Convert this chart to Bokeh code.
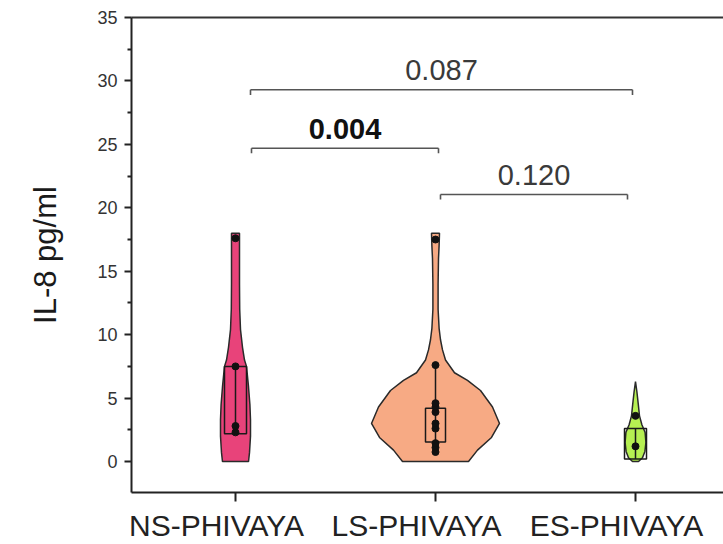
import numpy as np
from bokeh.plotting import figure
from bokeh.models import Range1d, FixedTicker, LinearAxis
from bokeh.core.properties import value
from bokeh.embed import file_html
from bokeh.resources import INLINE

# ---------------- data ----------------
categories = ["NS-PHIVAYA", "LS-PHIVAYA", "ES-PHIVAYA"]
positions = [1, 2, 3]
colors = ["#E8437A", "#F7AA84", "#B6F052"]

# violin outlines: y level and half width (x units)
ns_y = [0, 0.7, 2.0, 3.3, 4.5, 5.9, 7.5, 8.0, 9.0, 10.4, 12, 14, 16, 18]
ns_hw = [0.065, 0.070, 0.075, 0.075, 0.072, 0.065, 0.055, 0.045, 0.035, 0.025, 0.021, 0.02, 0.02, 0.02]
ls_y = [0, 0.9, 1.9, 3.0, 4.3, 5.6, 6.4, 7.0, 8.0, 8.8, 9.6, 10.5, 12, 14, 16, 17, 18]
ls_hw = [0.165, 0.21, 0.28, 0.32, 0.285, 0.225, 0.16, 0.095, 0.05, 0.035, 0.025, 0.018, 0.013, 0.013, 0.015, 0.018, 0.02]
es_y = [0, 0.3, 0.8, 1.5, 2.3, 2.9, 3.6, 4.5, 5.5, 6.3]
es_hw = [0.015, 0.035, 0.047, 0.052, 0.048, 0.032, 0.02, 0.014, 0.007, 0.0]

# box and whiskers
box_q1 = [2.2, 1.55, 0.2]
box_q3 = [7.5, 4.2, 2.6]
whisk_lo = [2.2, 0.7, 0.2]
whisk_hi = [7.5, 7.6, 2.6]

# raw points
ns_points = [2.3, 2.8, 7.5, 17.6]
ls_points = [0.75, 1.1, 1.45, 2.6, 3.0, 3.9, 4.3, 4.6, 7.6, 17.5]
es_points = [1.2, 3.6]

# significance brackets
bracket_x0 = [1.075, 1.08, 2.025]
bracket_x1 = [2.985, 2.015, 2.96]
bracket_y = [29.3, 24.7, 21.05]
bracket_labels = ["0.087", "0.004", "0.120"]
bracket_bold = [False, True, False]

y_ticks = [0, 5, 10, 15, 20, 25, 30, 35]
y_minor = [-2.5, 2.5, 7.5, 12.5, 17.5, 22.5, 27.5, 32.5]

FONT = "Liberation Sans"
X_MIN, X_MAX = 0.48, 3.44
LABEL_SHIFT = 0.095  # category names sit slightly left of their ticks

# ---------------- figure ----------------
p = figure(width=723, height=544, output_backend="svg", toolbar_location=None,
           x_range=Range1d(X_MIN, X_MAX), y_range=Range1d(-2.44, 35),
           min_border_left=131, min_border_right=0, min_border_top=17,
           min_border_bottom=52, x_axis_location=None, y_axis_location=None)
p.extra_x_ranges = {"labels": Range1d(X_MIN + LABEL_SHIFT, X_MAX + LABEL_SHIFT)}
p.outline_line_color = None
p.xgrid.visible = False
p.ygrid.visible = False
p.background_fill_color = "white"
p.border_fill_color = "white"

# left axis
yax = LinearAxis(ticker=FixedTicker(ticks=y_ticks, minor_ticks=y_minor))
yax.axis_line_width = 2
yax.axis_line_color = "#222222"
yax.major_tick_line_width = 2
yax.major_tick_line_color = "#222222"
yax.major_tick_out = 7
yax.major_tick_in = 0
yax.minor_tick_line_width = 2
yax.minor_tick_line_color = "#222222"
yax.minor_tick_out = 4
yax.minor_tick_in = 0
yax.major_label_text_font = FONT
yax.major_label_text_font_size = "18px"
yax.major_label_text_color = "#333333"
yax.major_label_standoff = 7
yax.axis_label = "IL-8 pg/ml"
yax.axis_label_text_font = FONT
yax.axis_label_text_font_size = "31px"
yax.axis_label_text_font_style = "normal"
yax.axis_label_text_color = "#1a1a1a"
yax.axis_label_standoff = 31
p.add_layout(yax, "left")

# bottom axis: line and ticks
xax = LinearAxis(ticker=FixedTicker(ticks=positions))
xax.major_label_overrides = {pos: "" for pos in positions}
xax.major_label_text_font_size = "0px"
xax.major_label_standoff = 0
xax.axis_line_width = 2
xax.axis_line_color = "#222222"
xax.major_tick_line_width = 2
xax.major_tick_line_color = "#222222"
xax.major_tick_out = 9
xax.major_tick_in = 0
xax.minor_tick_line_color = None
p.add_layout(xax, "below")

# bottom axis: category names
lax = LinearAxis(x_range_name="labels", ticker=FixedTicker(ticks=positions))
lax.major_label_overrides = {pos: cat for pos, cat in zip(positions, categories)}
lax.axis_line_color = None
lax.major_tick_line_color = None
lax.minor_tick_line_color = None
lax.major_tick_out = 0
lax.major_tick_in = 0
lax.major_label_text_font = FONT
lax.major_label_text_font_size = "30px"
lax.major_label_text_color = "#222222"
lax.major_label_standoff = 7
p.add_layout(lax, "below")

# top line
tax = LinearAxis(ticker=FixedTicker(ticks=[]))
tax.axis_line_width = 2
tax.axis_line_color = "#333333"
tax.major_tick_line_color = None
tax.minor_tick_line_color = None
tax.major_label_text_color = None
p.add_layout(tax, "above")

# violins
profiles = [(ns_y, ns_hw), (ls_y, ls_hw), (es_y, es_hw)]
xs, ys = [], []
for c, (yv, hw) in zip(positions, profiles):
    yv = np.array(yv, dtype=float)
    hw = np.array(hw, dtype=float)
    xs.append(list(c - hw) + list((c + hw)[::-1]))
    ys.append(list(yv) + list(yv[::-1]))
p.patches(xs, ys, fill_color=colors, line_color="#2a2a2a", line_width=1.5)

# whiskers
p.segment(x0=positions, y0=whisk_lo, x1=positions, y1=whisk_hi,
          line_color="#1a1a1a", line_width=1.5)

# boxes
box_hw = [0.055, 0.05, 0.055]
p.quad(left=[c - w for c, w in zip(positions, box_hw)],
       right=[c + w for c, w in zip(positions, box_hw)],
       bottom=box_q1, top=box_q3, fill_color=None,
       line_color="#1a1a1a", line_width=1.5)

# points
for c, pts in zip(positions, [ns_points, ls_points, es_points]):
    p.scatter(x=[c] * len(pts), y=pts, size=7, marker="circle",
              fill_color="#111111", line_color="#111111")

# brackets
tick_len = 0.4
p.segment(x0=bracket_x0, y0=bracket_y, x1=bracket_x1, y1=bracket_y,
          line_color="#555555", line_width=1.6)
p.segment(x0=bracket_x0, y0=bracket_y, x1=bracket_x0,
          y1=[b - tick_len for b in bracket_y], line_color="#555555", line_width=1.6)
p.segment(x0=bracket_x1, y0=bracket_y, x1=bracket_x1,
          y1=[b - tick_len for b in bracket_y], line_color="#555555", line_width=1.6)

mids = [(a + b) / 2 for a, b in zip(bracket_x0, bracket_x1)]
for bold in (False, True):
    idx = [i for i, b in enumerate(bracket_bold) if b == bold]
    p.text(x=[mids[i] for i in idx], y=[bracket_y[i] + 0.75 for i in idx],
           text=[bracket_labels[i] for i in idx],
           text_font=value(FONT), text_font_size=value("29px"),
           text_font_style="bold" if bold else "normal",
           text_color="#111111" if bold else "#3a3a3a",
           text_align="center", text_baseline="bottom")

open("out.html", "w").write(file_html(p, INLINE))
